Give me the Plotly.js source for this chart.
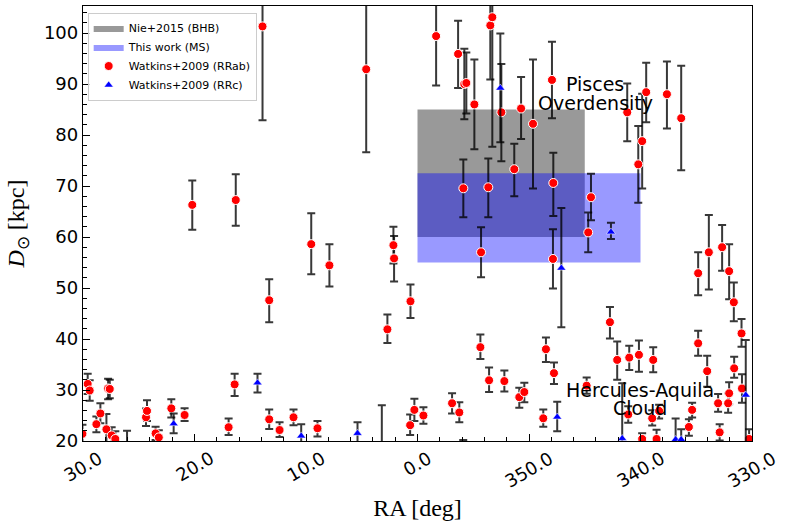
<!DOCTYPE html>
<html><head><meta charset="utf-8">
<script src="https://cdn.plot.ly/plotly-3.0.1.min.js"></script>
<style>html,body{margin:0;padding:0;background:#fff}#chart{width:788px;height:530px}</style>
</head><body><div id="chart"></div>
<script>
// ---- data (RA in degrees, distance in kpc) ----
const rrabRA = [29.58,29.4,30.05,28.8,28.44,27.9,27.75,27.6,27.43,27.1,26.05,24.35,24.26,23.49,23.2,22.08,20.89,20.2,16.94,16.4,16.3,13.9,13.3,13.3,12.37,11.12,9.53,8.97,7.9,4.6,3.2,2.7,2.16,2.1,0.63,0.66,0.28,359.47,358.33,356.9,356.36,356.25,355.9,355.89,355.8,355.62,354.9,354.36,354.3,353.65,353.58,353.47,353.29,352.48,352.21,351.32,350.87,350.71,350.42,349.64,348.72,348.48,347.94,347.85,347.82,347.76,344.83,344.69,344.44,342.74,342.09,341.19,341.1,341.01,340.2,340.14,339.85,339.85,339.49,338.95,338.86,338.56,338.33,337.63,336.35,335.66,335.37,334.83,334.83,334.02,333.87,333.04,332.9,332.68,332.14,332.05,332.05,331.63,331.6,330.94,330.9,330.26];
const rrabD = [31.2,29.9,21.4,23.3,25.4,22.3,30.3,30.2,21.1,20.4,18.5,24.65,25.9,21.5,20.7,26.4,25.1,66.3,22.7,31.1,67.25,101.3,47.6,24.25,22.15,24.65,58.6,22.5,54.45,92.9,18.0,41.9,58.4,55.8,47.4,23.1,26.1,25.0,99.4,27.4,95.9,25.6,18.5,69.55,90.0,90.2,86.0,38.4,57.0,69.75,31.9,101.5,103.1,84.45,31.75,73.3,28.6,85.2,29.6,82.2,24.45,38.0,90.8,55.7,70.6,33.3,30.85,60.9,67.8,43.3,35.9,84.45,25.2,36.35,74.25,36.9,78.8,20.4,88.4,24.45,35.9,20.4,25.9,88.0,83.3,22.75,26.1,52.9,39.15,33.7,57.0,27.4,21.7,58.0,27.4,29.35,53.3,47.2,34.25,41.1,30.3,20.4];
const rrabErrUp = [2.0,2.0,1.8,1.5,2.0,3.0,1.9,1.8,1.6,1.5,3.5,1.7,2.1,1.3,1.4,1.8,1.3,4.8,1.7,2.1,5.05,18.4,4.1,1.95,1.55,1.55,6.05,1.4,4.15,16.3,9.0,2.9,3.6,4.4,3.3,2.1,2.2,1.6,9.7,1.95,6.5,2.0,1.7,5.65,6.9,6.0,8.8,2.5,4.9,5.65,2.5,10.6,25.4,9.5,2.05,5.0,1.85,6.2,1.8,12.6,1.75,2.3,7.5,5.8,5.9,2.1,1.6,3.9,4.6,3.0,3.6,5.65,1.6,2.35,7.5,2.8,9.3,1.1,5.75,1.6,2.5,1.8,1.2,6.4,10.3,1.5,1.4,4.1,2.45,3.0,7.3,1.8,1.6,4.35,1.95,2.15,5.3,3.9,2.25,2.8,2.8,1.9];
const rrabErrDown = [2.0,2.0,1.8,1.6,1.9,3.0,2.1,1.8,1.6,1.5,3.5,1.7,2.0,1.3,1.4,1.8,1.2,4.9,1.5,2.3,5.05,18.4,4.3,1.9,1.35,1.55,5.9,1.6,4.15,16.3,9.0,2.7,3.6,4.5,3.3,1.9,2.2,1.6,9.7,2.0,6.7,1.9,1.7,5.65,6.9,6.0,8.8,2.3,4.9,5.85,2.3,10.6,25.4,9.6,2.05,5.3,2.1,6.0,2.0,12.7,1.65,2.5,7.5,5.8,6.5,2.1,1.6,3.9,4.5,3.2,3.9,5.65,1.6,2.45,7.55,3.3,9.3,1.1,5.9,1.4,2.4,1.8,1.5,6.7,10.2,1.7,1.5,4.3,2.45,3.05,7.3,1.65,1.6,4.6,1.85,2.15,5.5,3.7,1.85,2.6,2.8,1.9];

const rrcRA = [21.87,14.35,10.43,5.38,352.57,347.47,347.1,342.65,341.64,336.85,336.35,330.56];
const rrcD = [23.4,31.4,21.0,21.5,89.2,24.7,53.9,61.0,20.5,20.3,20.3,29.0];
const rrcErrUp = [2.0,1.8,2.3,2.2,10.7,3.0,11.8,1.8,10.8,4.1,2.0,10.8];
const rrcErrDown = [1.9,1.9,2.3,2.2,10.6,2.8,11.6,1.4,10.8,4.1,2.0,10.8];

// regions: [RA start, RA end, D min, D max]
const nieBHB = {ra: [0, 345], d: [60, 85]};
const thisWorkMS = {ra: [0, 340], d: [55, 72.5]};

const tickRA = [30, 20, 10, 0, 350, 340, 330];
const tickText = ["30.0", "20.0", "10.0", "0.0", "350.0", "340.0", "330.0"];

const regionLabels = [
  {ra: 344.06, d: [90.0, 86.3], lines: ["Pisces", "Overdensity"]},
  {ra: 340.05, d: [30.0, 26.4], lines: ["Hercules-Aquila", "Cloud"]}
];

// ---- helpers ----
const wrap = ra => ra > 180 ? ra - 360 : ra;
const rect = (r) => {
  const x0 = wrap(r.ra[0]), x1 = wrap(r.ra[1]);
  return {x: [x0, x0, x1, x1, x0], y: [r.d[0], r.d[1], r.d[1], r.d[0], r.d[0]]};
};

const errStyle = (up, down) => ({type: 'data', symmetric: false, array: up, arrayminus: down,
  color: 'rgba(0,0,0,0.78)', thickness: 2, width: 4});

const g = rect(nieBHB), b = rect(thisWorkMS);
const traces = [
  {type: 'scatter', mode: 'lines', x: g.x, y: g.y, fill: 'toself', fillcolor: 'rgba(128,128,128,0.8)',
   line: {width: 0, color: 'rgba(128,128,128,0.8)'}, name: 'Nie+2015 (BHB)', hoverinfo: 'skip'},
  {type: 'scatter', mode: 'lines', x: b.x, y: b.y, fill: 'toself', fillcolor: 'rgba(0,0,255,0.4)',
   line: {width: 0, color: 'rgba(0,0,255,0.4)'}, name: 'This work (MS)', hoverinfo: 'skip'},
  {type: 'scatter', mode: 'markers', x: rrabRA.map(wrap), y: rrabD, name: 'Watkins+2009 (RRab)',
   marker: {color: 'red', size: 9, symbol: 'circle', line: {color: 'white', width: 1}},
   error_y: errStyle(rrabErrUp, rrabErrDown)},
  {type: 'scatter', mode: 'markers', x: rrcRA.map(wrap), y: rrcD, name: 'Watkins+2009 (RRc)',
   marker: {color: 'blue', size: 8, symbol: 'triangle-up', line: {color: 'white', width: 0.5}},
   error_y: errStyle(rrcErrUp, rrcErrDown)}
];

const annotations = [];
const tickFont = 18;
tickRA.forEach((ra, i) => {
  const t = tickText[i];
  const digits = t.replace('.', '').length;
  const L = tickFont * (0.636 * digits + 0.318);
  const h = 0.5 * L + 11.3;
  annotations.push({x: wrap(ra), xref: 'x', y: 0, yref: 'paper', text: t, showarrow: false,
    textangle: -30, xanchor: 'center', yanchor: 'middle', yshift: -(10 + h / 2),
    font: {family: 'DejaVu Sans', size: tickFont, color: 'black'}});
});
regionLabels.forEach(r => {
  r.lines.forEach((ln, j) => {
    annotations.push({x: wrap(r.ra), y: r.d[j], xref: 'x', yref: 'y', text: ln, showarrow: false,
      xanchor: 'center', yanchor: 'middle', font: {family: 'DejaVu Sans', size: 19, color: 'black'}});
  });
});

const layout = {
  width: 788, height: 530,
  margin: {l: 83, r: 36, t: 6, b: 89},
  paper_bgcolor: 'white', plot_bgcolor: 'white',
  font: {family: 'DejaVu Sans', color: 'black'},
  showlegend: true,
  legend: {x: 0.007, y: 0.985, xanchor: 'left', yanchor: 'top', bgcolor: 'rgba(255,255,255,0.8)',
    bordercolor: '#cccccc', borderwidth: 1, font: {family: 'DejaVu Sans', size: 11, color: 'black'},
    tracegroupgap: 0},
  xaxis: {range: [30, -30], tickmode: 'array', tickvals: tickRA.map(wrap), ticktext: tickText,
    showticklabels: false, ticks: 'inside', ticklen: 7, tickwidth: 1.2, tickcolor: 'black',
    minor: {tickmode: 'linear', tick0: 0, dtick: 2, ticks: 'inside', ticklen: 4, tickcolor: 'black', tickwidth: 1},
    showline: true, linecolor: 'black', linewidth: 1.3, mirror: true, showgrid: false, zeroline: false,
    title: {text: 'RA [deg]', font: {family: 'Liberation Serif', size: 24, color: 'black'}, standoff: 58}},
  yaxis: {range: [20, 105.3], tickmode: 'linear', tick0: 0, dtick: 10,
    ticks: 'inside', ticklen: 7, tickwidth: 1.2, tickcolor: 'black',
    minor: {tickmode: 'linear', tick0: 0, dtick: 2, ticks: 'inside', ticklen: 4, tickcolor: 'black', tickwidth: 1},
    tickfont: {family: 'DejaVu Sans', size: 18, color: 'black'},
    showline: true, linecolor: 'black', linewidth: 1.3, mirror: true, showgrid: false, zeroline: false,
    title: {text: '<i>D</i><sub>⊙</sub> [kpc]', font: {family: 'Liberation Serif', size: 24, color: 'black'}, standoff: 12}},
  annotations: annotations
};

Plotly.newPlot('chart', traces, layout, {displayModeBar: false, responsive: false});
</script></body></html>
